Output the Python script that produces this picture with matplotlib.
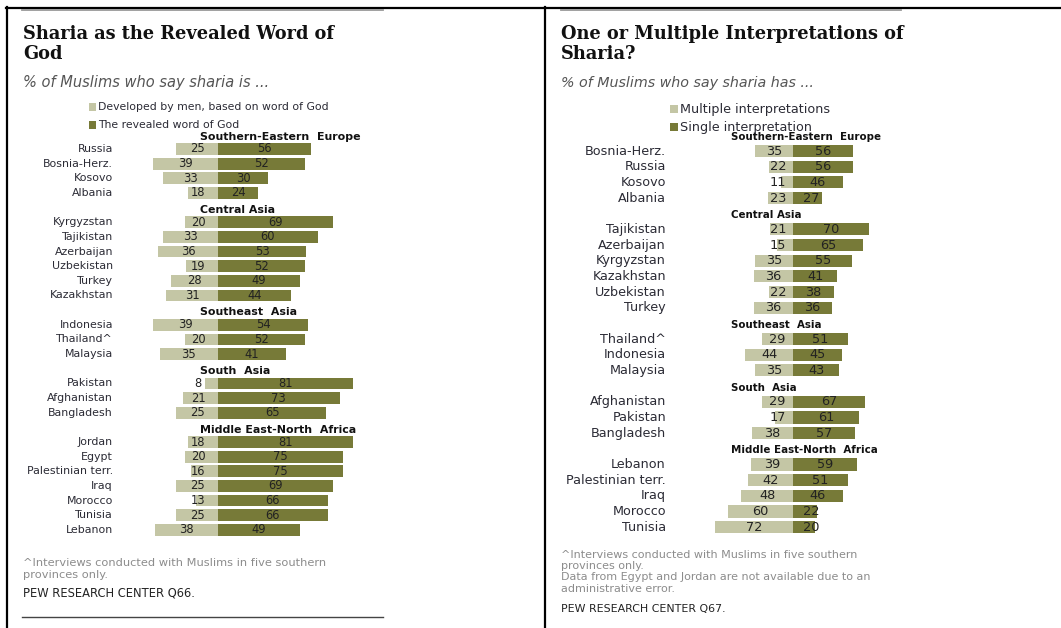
import numpy as np
import matplotlib
matplotlib.use("Agg")
import matplotlib.pyplot as plt
from matplotlib.patches import Rectangle
from matplotlib.lines import Line2D

# ---- data: left chart (Q66) ----
left_regions = ["Southern-Eastern  Europe", "Central Asia", "Southeast  Asia",
                "South  Asia", "Middle East-North  Africa"]
left_group_sizes = [4, 6, 3, 3, 7]
left_countries = ["Russia", "Bosnia-Herz.", "Kosovo", "Albania",
                  "Kyrgyzstan", "Tajikistan", "Azerbaijan", "Uzbekistan", "Turkey", "Kazakhstan",
                  "Indonesia", "Thailand^", "Malaysia",
                  "Pakistan", "Afghanistan", "Bangladesh",
                  "Jordan", "Egypt", "Palestinian terr.", "Iraq", "Morocco", "Tunisia", "Lebanon"]
left_developed = [25, 39, 33, 18, 20, 33, 36, 19, 28, 31, 39, 20, 35, 8, 21, 25,
                  18, 20, 16, 25, 13, 25, 38]
left_revealed = [56, 52, 30, 24, 69, 60, 53, 52, 49, 44, 54, 52, 41, 81, 73, 65,
                 81, 75, 75, 69, 66, 66, 49]

# ---- data: right chart (Q67) ----
right_regions = ["Southern-Eastern  Europe", "Central Asia", "Southeast  Asia",
                 "South  Asia", "Middle East-North  Africa"]
right_group_sizes = [4, 6, 3, 3, 5]
right_countries = ["Bosnia-Herz.", "Russia", "Kosovo", "Albania",
                   "Tajikistan", "Azerbaijan", "Kyrgyzstan", "Kazakhstan", "Uzbekistan", "Turkey",
                   "Thailand^", "Indonesia", "Malaysia",
                   "Afghanistan", "Pakistan", "Bangladesh",
                   "Lebanon", "Palestinian terr.", "Iraq", "Morocco", "Tunisia"]
right_multiple = [35, 22, 11, 23, 21, 15, 35, 36, 22, 36, 29, 44, 35, 29, 17, 38,
                  39, 42, 48, 60, 72]
right_single = [56, 56, 46, 27, 70, 65, 55, 41, 38, 36, 51, 45, 43, 67, 61, 57,
                59, 51, 46, 22, 20]

LIGHT = "#c4c6a5"
DARK = "#777a38"
TXT = "#2b2b35"
GRAY = "#8c8c8c"

W, H = 1061, 628
fig = plt.figure(figsize=(W / 100, H / 100), dpi=100)


def fx(x):
    return x / W


def fy(y):
    return 1 - y / H


def slots(sizes):
    # row positions with one blank slot (for the header) between groups
    pos, heads, s = [], [], 0
    for g, n in enumerate(sizes):
        if g > 0:
            s += 1
        heads.append(s)
        for i in range(n):
            pos.append(s + i)
        s += n
    return np.array(pos, dtype=float), np.array(heads, dtype=float)


def bar_panel(zero, scale, y0, step, xr, countries, neg, posv, regions, sizes,
              lab_x, head_x, head_off, fs_lab, fs_val, fs_head, bh,
              neg_min, pos_min):
    rows, heads = slots(sizes)
    smin, smax = -1.6, rows[-1] + 0.6
    left = zero + xr[0] * scale
    width = (xr[1] - xr[0]) * scale
    top = y0 + smin * step
    bottom = y0 + smax * step
    ax = fig.add_axes([fx(left), fy(bottom), width / W, (bottom - top) / H])
    ax.set_xlim(*xr)
    ax.set_ylim(smax, smin)
    ax.axis("off")
    ax.barh(rows, -np.array(neg), height=bh, color=LIGHT, linewidth=0)
    ax.barh(rows, posv, height=bh, color=DARK, linewidth=0)
    for r, c, a, b in zip(rows, countries, neg, posv):
        ax.text((lab_x - zero) / scale, r, c, ha="right", va="center",
                fontsize=fs_lab, color=TXT, clip_on=False)
        ax.text(-max(a / 2, neg_min), r, str(a), ha="center", va="center",
                fontsize=fs_val, color="#222222")
        ax.text(max(b / 2, pos_min), r, str(b), ha="center", va="center",
                fontsize=fs_val, color="#222222")
    for h, name in zip(heads, regions):
        ax.text((head_x - zero) / scale, h - head_off, name, ha="left", va="center",
                fontsize=fs_head, fontweight="bold", color="#111111", clip_on=False)
    return ax


# left chart
bar_panel(zero=218, scale=1.665, y0=149, step=14.65, xr=(-50, 90),
          countries=left_countries, neg=left_developed, posv=left_revealed,
          regions=left_regions, sizes=left_group_sizes,
          lab_x=113, head_x=200, head_off=0.85,
          fs_lab=7.9, fs_val=8.3, fs_head=7.9, bh=0.8, neg_min=12, pos_min=0)

# right chart
bar_panel(zero=793, scale=1.08, y0=151, step=15.67, xr=(-80, 80),
          countries=right_countries, neg=right_multiple, posv=right_single,
          regions=right_regions, sizes=right_group_sizes,
          lab_x=666, head_x=731, head_off=0.9,
          fs_lab=9.2, fs_val=9.3, fs_head=7.4, bh=0.78, neg_min=14, pos_min=17)

# titles and subtitles
TFS = 12.8
fig.text(fx(23), fy(34), "Sharia as the Revealed Word of", fontsize=TFS,
         family="DejaVu Serif", fontweight="bold", color="#111111", va="center")
fig.text(fx(23), fy(54), "God", fontsize=TFS,
         family="DejaVu Serif", fontweight="bold", color="#111111", va="center")
fig.text(fx(23), fy(83), "% of Muslims who say sharia is ...", fontsize=10.5,
         style="italic", color="#555555", va="center")

fig.text(fx(561), fy(34), "One or Multiple Interpretations of", fontsize=TFS,
         family="DejaVu Serif", fontweight="bold", color="#111111", va="center")
fig.text(fx(561), fy(54), "Sharia?", fontsize=TFS,
         family="DejaVu Serif", fontweight="bold", color="#111111", va="center")
fig.text(fx(561), fy(83), "% of Muslims who say sharia has ...", fontsize=10.3,
         style="italic", color="#555555", va="center")

# legends
for x, y, sz, col, lab, fs in [(89, 107, 7, LIGHT, "Developed by men, based on word of God", 7.8),
                               (89, 125, 7, DARK, "The revealed word of God", 7.8),
                               (670, 109, 8, LIGHT, "Multiple interpretations", 9.2),
                               (670, 127, 8, DARK, "Single interpretation", 9.2)]:
    fig.patches.append(Rectangle((fx(x), fy(y + sz / 2)), sz / W, sz / H,
                                 transform=fig.transFigure, color=col, linewidth=0))
    fig.text(fx(x + sz + 2), fy(y), lab, fontsize=fs, color=TXT, va="center")

# footnotes
fig.text(fx(23), fy(563), "^Interviews conducted with Muslims in five southern",
         fontsize=8.2, color=GRAY, va="center")
fig.text(fx(23), fy(575), "provinces only.", fontsize=8.2, color=GRAY, va="center")
fig.text(fx(23), fy(593), "PEW RESEARCH CENTER Q66.", fontsize=8.3, color="#222222",
         va="center")

for y, line in [(555, "^Interviews conducted with Muslims in five southern"),
                (566, "provinces only."),
                (577, "Data from Egypt and Jordan are not available due to an"),
                (589, "administrative error.")]:
    fig.text(fx(561), fy(y), line, fontsize=8, color=GRAY, va="center")
fig.text(fx(561), fy(609), "PEW RESEARCH CENTER Q67.", fontsize=7.9, color="#222222",
         va="center")


# frame lines
def hline(x0, x1, y, color, lw):
    fig.lines.append(Line2D([fx(x0), fx(x1)], [fy(y), fy(y)], transform=fig.transFigure,
                            color=color, linewidth=lw))


def vline(x, y0, y1, color, lw):
    fig.lines.append(Line2D([fx(x), fx(x)], [fy(y0), fy(y1)], transform=fig.transFigure,
                            color=color, linewidth=lw))


hline(6, 1061, 7.5, "black", 1.6)
vline(7, 7, 628, "black", 1.6)
vline(545, 7, 628, "black", 1.6)
hline(22, 383, 9.5, "#999999", 1.3)
hline(561, 901, 9.5, "#999999", 1.3)
hline(22, 383, 617, "#444444", 1.0)

fig.savefig("out.png", dpi=100)
